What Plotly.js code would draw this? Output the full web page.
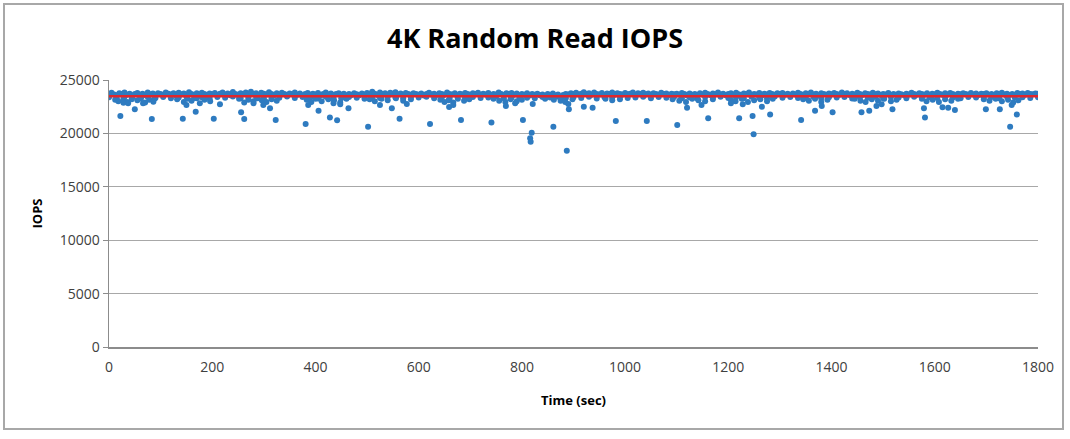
<!DOCTYPE html>
<html><head><meta charset="utf-8">
<script src="https://cdn.plot.ly/plotly-3.0.1.min.js"></script>
<style>
html,body{margin:0;padding:0;background:#fff;}
#wrap{position:relative;width:1070px;height:439px;}
#chart{position:absolute;left:0;top:0;width:1070px;height:439px;}
#frame{position:absolute;left:3px;top:3px;width:1061px;height:427px;border:2px solid #a8a8a8;pointer-events:none;box-sizing:border-box;}
</style></head>
<body><div id="wrap"><div id="chart"></div><div id="frame"></div></div>
<script>
// Main band: one sample every 5 seconds starting at 0
const bandIOPS = [
23720,23810,23650,23580,23760,23690,23840,23610,23720,23550,23680,23790,23620,23710,23580,23830,23660,23740,23600,23770,
23690,23580,23820,23710,23640,23760,23550,23800,23670,23730,23620,23850,23700,23590,23760,23640,23810,23690,23570,23740,
23660,23780,23600,23720,23830,23650,23740,23580,23870,23690,23610,23760,23700,23820,23640,23910,23680,23750,23590,23800,
23720,23640,23850,23690,23570,23760,23630,23800,23700,23580,23740,23660,23820,23610,23730,23550,23690,23780,23620,23710,
23640,23790,23560,23700,23820,23650,23730,23590,23680,23760,23610,23720,23540,23690,23600,23750,23670,23580,23730,23640,
23780,23660,23890,23710,23600,23820,23690,23750,23630,23800,23720,23860,23650,23740,23580,23790,23680,23610,23760,23700,
23620,23740,23560,23690,23800,23650,23720,23590,23770,23680,23610,23830,23700,23650,23760,23580,23720,23640,23790,23700,
23630,23760,23690,23810,23600,23720,23650,23780,23560,23700,23640,23820,23690,23600,23750,23680,23790,23620,23730,23580,
23700,23620,23760,23540,23680,23610,23720,23580,23650,23500,23690,23600,23730,23560,23640,23380,23600,23700,23650,23770,
23690,23800,23640,23720,23850,23680,23760,23610,23820,23700,23650,23780,23590,23740,23690,23830,23620,23760,23700,23640,
23780,23660,23720,23840,23600,23750,23690,23810,23640,23730,23580,23770,23700,23620,23800,23680,23740,23590,23710,23660,
23720,23610,23790,23680,23550,23740,23630,23700,23590,23760,23650,23810,23690,23600,23740,23670,23820,23640,23710,23580,
23690,23760,23620,23800,23670,23590,23740,23680,23820,23610,23700,23650,23780,23560,23720,23640,23790,23690,23610,23750,
23680,23790,23620,23710,23560,23740,23650,23800,23690,23600,23760,23670,23830,23640,23720,23580,23770,23690,23620,23740,
23660,23780,23700,23610,23830,23690,23750,23590,23720,23650,23800,23680,23600,23760,23700,23640,23810,23670,23730,23590,
23700,23640,23780,23560,23690,23620,23740,23670,23590,23720,23650,23800,23690,23610,23770,23700,23630,23760,23580,23720,
23670,23810,23700,23620,23750,23640,23790,23690,23580,23720,23660,23760,23690,23610,23780,23650,23740,23600,23720,23680,
23760,23620,23700,23580,23750,23670,23810,23640,23720,23590,23690,23630,23780,23680,23740,23610,23790,23700,23660,23730,
23720];

// Lower edge of the band: one sample every 15 seconds starting at 0
const lowerIOPS = [
23380,23300,23420,23350,23270,23440,23320,23400,23290,23360,
23430,23310,23380,23260,23410,23340,23450,23300,23370,23420,
23280,23390,23330,23460,23310,23400,23350,23270,23430,23360,
23300,23410,23340,23250,23390,23320,23440,23370,23290,23410,
23350,23420,23300,23380,23260,23430,23340,23400,23310,23370,
23450,23290,23360,23410,23330,23280,23400,23350,23440,23300,
23380,23320,23420,23270,23390,23350,23460,23310,23370,23420,
23290,23400,23340,23430,23300,23380,23260,23410,23350,23440,
23320,23390,23280,23420,23360,23300,23450,23340,23400,23310,
23370,23430,23290,23380,23350,23410,23270,23390,23330,23440,
23300,23400,23360,23280,23420,23340,23380,23310,23450,23350,
23290,23410,23370,23330,23400,23300,23430,23360,23390,23320,
23380];

// Shallow dips just below the band
const dipTime = [12,18,28,35,44,55,62,70,78,88,132,145,152,160,170,185,196,252,262,270,280,288,296,305,315,325,
383,392,400,412,425,436,448,460,505,515,528,540,556,570,585,642,650,658,667,676,688,698,745,756,768,778,790,800,
845,862,875,884,890,898,962,975,990,1092,1105,1118,1130,1142,1155,1170,1205,1214,1226,1238,1250,1262,1275,1286,
1345,1356,1368,1380,1392,1445,1456,1466,1478,1490,1502,1515,1526,1575,1584,1596,1608,1620,1632,1645,
1695,1706,1718,1730,1742,1752,1762];
const dipIOPS = [23150,23000,23250,22950,23200,23100,23300,22900,23150,23250,23200,22950,23250,23050,23300,23150,23000,
23250,22900,23150,23000,23300,23100,22950,23200,23050,23150,22950,23250,23000,23200,23100,22900,23250,
23200,23000,23250,23100,23300,23050,23200,23150,22950,23100,22900,23250,23050,23200,23250,23050,22950,23200,23000,23150,
23250,23150,23050,22950,22750,23200,23250,23100,23200,23200,23050,22950,23250,23100,23000,23200,
23150,23000,23250,22950,23100,23200,23000,23250,23200,23050,23250,22950,23150,
23250,23050,22950,23200,23050,23250,23000,23150,23250,23000,23150,22950,23200,23050,23250,
23200,23050,23250,23000,23150,22900,23100];

// Scattered outliers
const outTime = [22,83,50,143,168,203,256,262,323,381,406,428,442,464,502,563,577,622,682,741,802,819,816,817,861,887,
920,937,982,1042,1101,1120,1148,1161,659,667,769,787,821,891,1205,1221,1228,1247,1249,1265,1281,1341,1368,1381,1402,
1458,1473,1487,1497,1518,1581,1579,1615,1626,1639,1699,1726,1746,1759,1749,
28,37,66,86,150,176,215,280,299,312,386,435,448,525,548];
const outIOPS = [21630,21350,22250,21380,22030,21380,21970,21350,21250,20880,22120,21500,21230,22350,20630,21380,22750,
20880,21250,21030,21250,20070,19540,19220,20630,18380,22500,22400,21160,21160,20790,22400,22660,21410,
22470,22660,22570,22820,22750,22250,22820,21410,22720,21630,19920,22500,21780,21250,22120,22570,21970,
21970,22120,22570,22720,22250,21500,22350,22440,22400,22190,22250,22250,20630,21780,22660,
22870,22820,22820,22970,22660,22820,22720,22820,22660,22350,22660,22820,22720,22660,22350];

// Average (trend) line
const avgTime = [0,1800];
const avgIOPS = [23480,23480];

const xTicks = [0,200,400,600,800,1000,1200,1400,1600,1800];
const yTicks = [0,5000,10000,15000,20000,25000];

const blue = '#2e7bc0';
const mk = {color: blue, size: 6};
const traces = [
  {type:'scatter', mode:'markers', x0:0, dx:15, y:lowerIOPS, marker:mk},
  {type:'scatter', mode:'markers', x0:0, dx:5, y:bandIOPS, marker:mk},
  {type:'scatter', mode:'markers', x:dipTime, y:dipIOPS, marker:mk},
  {type:'scatter', mode:'markers', x:outTime, y:outIOPS, marker:mk},
  {type:'scatter', mode:'lines', x:avgTime, y:avgIOPS, line:{color:'#e0262c', width:2.5}}
];
const font = "'Open Sans',Lato,sans-serif";
const layout = {
  width:1070, height:439,
  margin:{l:109, r:32, t:80, b:92},
  paper_bgcolor:'rgba(0,0,0,0)', plot_bgcolor:'#fff',
  showlegend:false,
  font:{family:font, color:'#404040', size:13},
  title:{text:'<b>4K Random Read IOPS</b>', x:0.5, xanchor:'center', y:0.913, yanchor:'middle',
         font:{family:font, size:27, color:'#000'}},
  xaxis:{range:[0,1800], tickvals:xTicks, ticktext:xTicks.map(String), showgrid:false, zeroline:false,
         showline:true, linecolor:'#8c8c8c', linewidth:1.5, ticks:'outside', ticklen:7, tickcolor:'rgba(0,0,0,0)',
         tickfont:{family:font, size:14, color:'#404040'},
         title:{text:'<b>Time (sec)</b>', font:{family:font, size:13, color:'#000'}, standoff:20}},
  yaxis:{range:[0,25000], tickvals:yTicks, ticktext:yTicks.map(String), showgrid:true, gridcolor:'#a8a8a8', gridwidth:1,
         zeroline:false, showline:true, linecolor:'#8c8c8c', linewidth:1.5, ticks:'outside', ticklen:5, tickcolor:'#8c8c8c',
         tickfont:{family:font, size:14, color:'#404040'},
         title:{text:'<b>IOPS</b>', font:{family:font, size:13, color:'#000'}, standoff:14}}
};
Plotly.newPlot('chart', traces, layout, {displayModeBar:false, staticPlot:true});
</script></body></html>
